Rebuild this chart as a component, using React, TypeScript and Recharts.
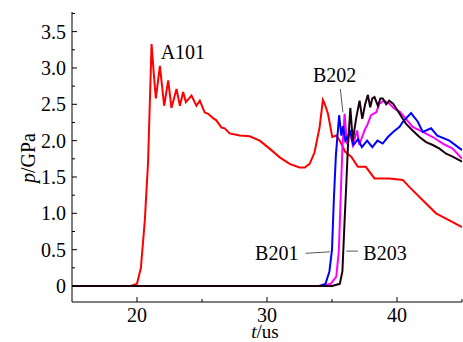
import { LineChart, Line, XAxis, YAxis, ReferenceDot, ReferenceLine } from "recharts";

// A101 (red)
const a101T = [15, 19.5, 20.0, 20.3, 20.6, 20.85, 21.0, 21.12, 21.3, 21.45, 21.76, 22.09, 22.4, 22.65, 23.04, 23.3, 23.55, 23.76, 24.19, 24.57, 24.83, 25.2, 25.47, 25.85, 26.1, 26.5, 26.75, 27.13, 27.9, 28.67, 29.44, 30.2, 30.98, 31.74, 32.5, 32.9, 33.28, 33.66, 34.05, 34.3, 34.45, 34.69, 35.02, 35.33, 35.6, 36.0, 36.48, 36.99, 37.6, 38.27, 39.4, 40.45, 40.96, 41.98, 43.0, 44.28, 45];
const a101P = [0, 0, 0.03, 0.25, 0.9, 1.7, 2.6, 3.33, 2.9, 2.58, 3.03, 2.48, 2.83, 2.45, 2.71, 2.48, 2.67, 2.53, 2.62, 2.48, 2.55, 2.39, 2.37, 2.31, 2.28, 2.18, 2.17, 2.1, 2.07, 2.06, 2.0, 1.89, 1.77, 1.68, 1.63, 1.63, 1.68, 1.84, 2.19, 2.56, 2.5, 2.37, 2.05, 2.07, 2.0, 1.85, 1.78, 1.64, 1.64, 1.48, 1.48, 1.46, 1.36, 1.18, 1.0, 0.88, 0.81];

// B201 (blue)
const b201T = [15, 34.0, 34.5, 34.8, 35.0, 35.14, 35.3, 35.55, 35.72, 35.85, 36.02, 36.4, 36.65, 37.0, 37.3, 37.7, 38.1, 38.5, 38.9, 39.3, 39.7, 40.2, 40.45, 41.08, 41.6, 41.98, 42.62, 43.1, 44.03, 45];
const b201P = [0, 0, 0.03, 0.2, 0.5, 1.18, 1.8, 2.35, 2.07, 2.2, 2.0, 2.12, 1.94, 2.02, 1.91, 2.0, 1.91, 2.0, 1.96, 2.05, 2.12, 2.19, 2.26, 2.38, 2.26, 2.12, 2.17, 2.07, 2.0, 1.87];

// B202 (magenta)
const b202T = [15, 34.3, 34.9, 35.33, 35.53, 35.66, 35.8, 35.97, 36.15, 36.35, 36.6, 36.93, 37.1, 37.5, 37.75, 38.0, 38.4, 38.65, 39.0, 39.4, 39.8, 40.2, 40.45, 41.2, 41.98, 42.75, 43.52, 44.28, 45];
const b202P = [0, 0, 0.03, 0.13, 0.49, 1.18, 1.9, 2.37, 1.95, 2.14, 1.94, 2.14, 1.94, 2.14, 2.23, 2.35, 2.39, 2.51, 2.55, 2.51, 2.44, 2.4, 2.35, 2.19, 2.12, 2.05, 1.96, 1.89, 1.75];

// B203 (black)
const b203T = [15, 35.0, 35.6, 35.8, 35.97, 36.1, 36.22, 36.41, 36.6, 36.85, 37.12, 37.33, 37.55, 37.76, 37.94, 38.1, 38.27, 38.53, 38.72, 38.91, 39.17, 39.4, 39.7, 40.2, 40.7, 41.2, 41.73, 42.24, 42.75, 43.27, 43.78, 44.28, 45];
const b203P = [0, 0, 0.03, 0.2, 0.9, 1.4, 1.9, 2.45, 2.0, 2.3, 2.55, 2.3, 2.5, 2.63, 2.46, 2.58, 2.6, 2.48, 2.58, 2.58, 2.5, 2.55, 2.51, 2.37, 2.23, 2.14, 2.05, 1.98, 1.94, 1.89, 1.82, 1.78, 1.71];

const xTicks = [15, 20, 25, 30, 35, 40, 45];
const yTicks = [0, 0.25, 0.5, 0.75, 1, 1.25, 1.5, 1.75, 2, 2.25, 2.5, 2.75, 3, 3.25, 3.5, 3.75];

const FONT = "Liberation Serif, DejaVu Serif, serif";
const txt = { fontFamily: FONT, fontSize: 20 };

const zip = (t: number[], p: number[]) => t.map((v, i) => ({ t: v, p: p[i] }));

const a101 = zip(a101T, a101P);
const b201 = zip(b201T, b201P);
const b202 = zip(b202T, b202P);
const b203 = zip(b203T, b203P);

const isMajor = (v: number, step: number) => Math.abs(v / step - Math.round(v / step)) < 1e-6;

const YTick = ({ x, y, payload }: any) => {
  const v = Number(payload.value);
  const major = isMajor(v, 0.5);
  return (
    <g>
      <line x1={x} x2={x + (major ? 5 : 3)} y1={y} y2={y} stroke="#000" />
      {major && (
        <text x={x - 6} y={y} dy="0.35em" textAnchor="end" style={txt} fill="#000">
          {v === 0 ? "0" : v.toFixed(1)}
        </text>
      )}
    </g>
  );
};

const XTick = ({ x, y, payload }: any) => {
  const v = Number(payload.value);
  const major = isMajor(v, 10);
  if (v === 15) return <g />;
  return (
    <g>
      <line x1={x} x2={x} y1={y} y2={y - (major ? 5 : 3)} stroke="#000" />
      {major && (
        <text x={x} y={y + 13} dy="0.35em" textAnchor="middle" style={txt} fill="#000">
          {v}
        </text>
      )}
    </g>
  );
};

const YTitle = ({ viewBox }: any) => {
  const cx = viewBox.x + 16;
  const cy = viewBox.y + viewBox.height / 2 + 1;
  return (
    <text x={cx} y={cy} dy="0.35em" textAnchor="middle" transform={`rotate(-90 ${cx} ${cy})`} style={txt} fill="#000">
      <tspan fontStyle="italic">p</tspan>/GPa
    </text>
  );
};

const XTitle = ({ viewBox }: any) => {
  const cx = viewBox.x + viewBox.width / 2 - 2;
  const cy = viewBox.y + 29;
  return (
    <text x={cx} y={cy} dy="0.35em" textAnchor="middle" style={{ ...txt, fontSize: 19 }} fill="#000">
      <tspan fontStyle="italic">t</tspan>/us
    </text>
  );
};

const tag = (value: string) => ({ value, position: "center" as const, fontSize: 20, fontFamily: FONT, fill: "#000", style: txt });

export default function App() {
  return (
    <div style={{ position: "absolute", left: 0, top: 0, background: "#fff", fontFamily: FONT }}>
      <LineChart width={463} height={342} margin={{ top: 12, right: 1, bottom: 0, left: 12 }} style={{ fontFamily: FONT }}>
        <XAxis
          type="number"
          dataKey="t"
          domain={[15, 45]}
          ticks={xTicks}
          interval={0}
          allowDataOverflow
          height={40}
          tickSize={0}
          tickMargin={0}
          tickLine={false}
          axisLine={{ stroke: "#000" }}
          tick={<XTick />}
          label={<XTitle />}
        />
        <YAxis
          type="number"
          domain={[-0.22, 3.77]}
          ticks={yTicks}
          interval={0}
          allowDataOverflow
          width={60}
          tickSize={0}
          tickMargin={0}
          tickLine={false}
          axisLine={{ stroke: "#000" }}
          tick={<YTick />}
          label={<YTitle />}
        />
        <Line data={a101} dataKey="p" stroke="#ff0000" strokeWidth={2} dot={false} isAnimationActive={false} />
        <Line data={b202} dataKey="p" stroke="#ff00ff" strokeWidth={2} dot={false} isAnimationActive={false} />
        <Line data={b201} dataKey="p" stroke="#0000ff" strokeWidth={2} dot={false} isAnimationActive={false} />
        <Line data={b203} dataKey="p" stroke="#1a0010" strokeWidth={2} dot={false} isAnimationActive={false} />
        <ReferenceLine segment={[{ x: 35.64, y: 2.71 }, { x: 35.84, y: 2.39 }]} stroke="#555" strokeWidth={1} />
        <ReferenceLine segment={[{ x: 32.97, y: 0.45 }, { x: 34.82, y: 0.47 }]} stroke="#555" strokeWidth={1} />
        <ReferenceLine segment={[{ x: 36.1, y: 0.48 }, { x: 36.99, y: 0.48 }]} stroke="#555" strokeWidth={1} />
        <ReferenceDot x={23.53} y={3.22} r={0} fill="none" stroke="none" label={tag("A101")} />
        <ReferenceDot x={35.2} y={2.9} r={0} fill="none" stroke="none" label={tag("B202")} />
        <ReferenceDot x={30.75} y={0.45} r={0} fill="none" stroke="none" label={tag("B201")} />
        <ReferenceDot x={39.08} y={0.45} r={0} fill="none" stroke="none" label={tag("B203")} />
      </LineChart>
    </div>
  );
}
